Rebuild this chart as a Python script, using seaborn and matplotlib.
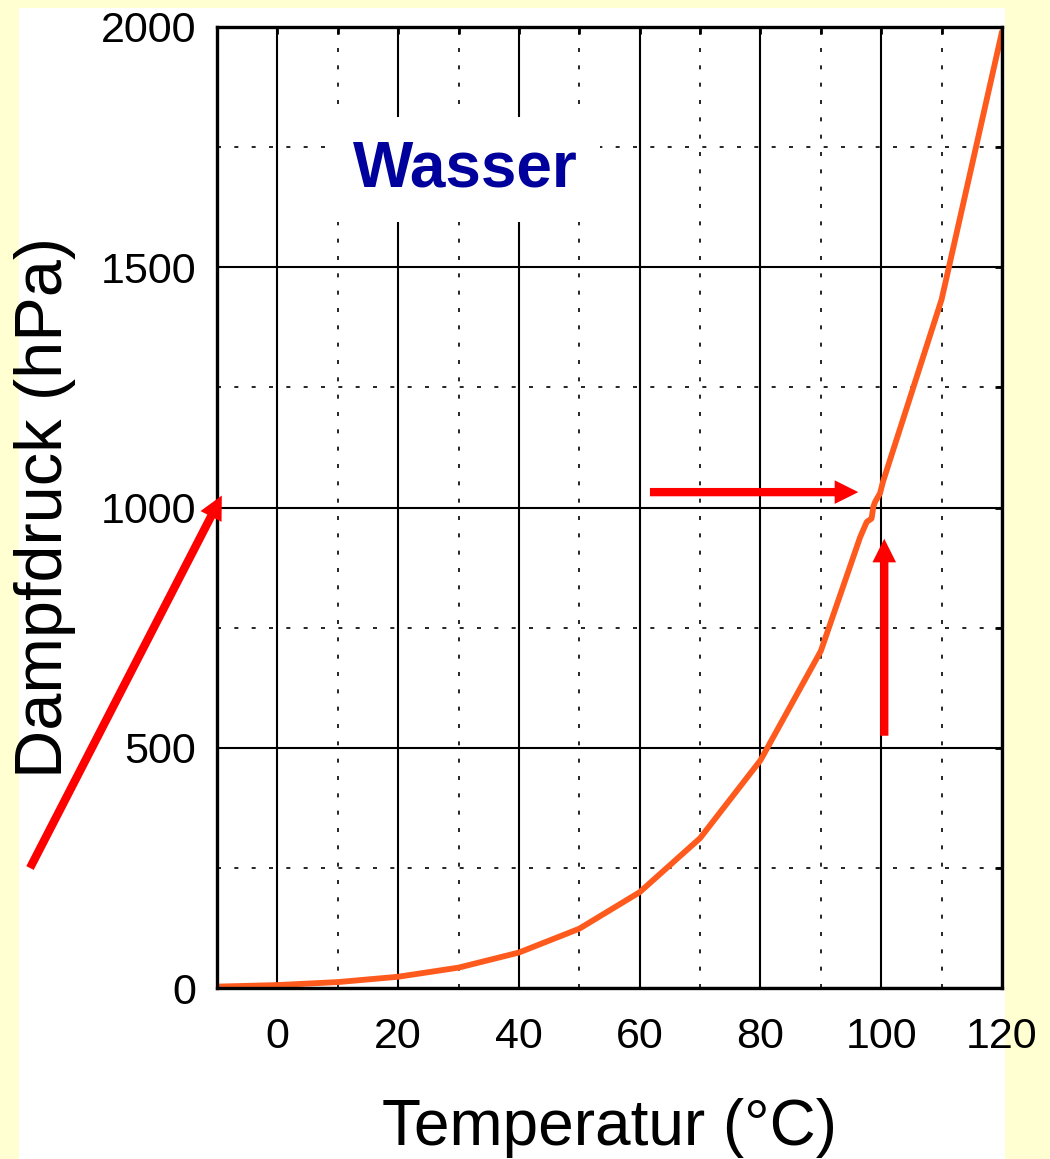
"""Dampfdruckkurve von Wasser (Sattigungsdampfdruck ueber Temperatur)."""

import matplotlib

matplotlib.use("Agg")
import matplotlib.pyplot as plt
import pandas as pd
import seaborn as sns
from matplotlib.patches import Rectangle

# Werte
temperatur = [-10, 0, 10, 20, 30, 40, 50, 60, 70, 80, 90,
              96.5, 97.6, 98.4, 98.7, 99.0, 99.8, 99.8, 100.3, 110, 120]
dampfdruck = [2.9, 6.1, 12.3, 23.4, 42.4, 73.8, 123.4, 199.4, 311.8, 473.9, 701.4,
              938, 970, 977, 1002, 1012, 1016, 1043, 1054, 1433, 1990]

x_ticks = [0, 20, 40, 60, 80, 100, 120]
y_ticks = [0, 500, 1000, 1500, 2000]
substanz = "Wasser"

KURVE = "#FF5A1E"
PFEIL = "#FF0000"
TITEL = "#00009C"


def main():
    sns.set_theme(style="white")
    plt.rcParams["font.family"] = ["Liberation Sans", "DejaVu Sans"]
    plt.rcParams["text.color"] = "black"
    plt.rcParams["axes.labelcolor"] = "black"

    df = pd.DataFrame({"T": temperatur, "p": dampfdruck})

    fig = plt.figure(figsize=(10.5, 11.59), dpi=100)
    fig.patch.set_facecolor("#FFFFD2")
    panel = Rectangle((19 / 1050, 0), 986 / 1050, 1151 / 1159,
                      transform=fig.transFigure, facecolor="white",
                      edgecolor="none", zorder=-10)
    fig.add_artist(panel)

    ax = fig.add_axes([217 / 1050, 1 - 988 / 1159, 785 / 1050, 961 / 1159])
    ax.set_zorder(1)
    ax.set_facecolor("white")

    sns.lineplot(data=df, x="T", y="p", sort=False, color=KURVE, lw=4.2,
                 ax=ax, zorder=4, solid_joinstyle="round")

    ax.set_xlim(-10, 120)
    ax.set_ylim(0, 2000)
    ax.set_xticks(x_ticks)
    ax.set_yticks(y_ticks)
    ax.set_xticks([10, 30, 50, 70, 90, 110], minor=True)
    ax.set_yticks([250, 750, 1250, 1750], minor=True)

    ax.grid(which="major", color="black", lw=1.5, ls="-")
    ax.grid(which="minor", color="black", lw=1.2, ls=(0, (2.4, 8)))
    ax.set_axisbelow(True)

    for side in ax.spines.values():
        side.set_color("black")
        side.set_linewidth(2.4)
        side.set_zorder(5)

    ax.tick_params(which="both", direction="in", length=5, width=2,
                   top=True, right=True, colors="black")
    ax.tick_params(axis="x", which="major", labelsize=31, pad=21)
    ax.tick_params(axis="y", which="major", labelsize=31, pad=15)

    ax.set_xlabel("Temperatur (°C)", fontsize=46)
    ax.xaxis.set_label_coords(0.5, -0.114)
    ax.set_ylabel("Dampfdruck (hPa)", fontsize=48)
    ax.yaxis.set_label_coords(-0.18, 0.5)

    ax.text(0.316, 0.852, substanz, transform=ax.transAxes, ha="center",
            va="center", fontsize=46, fontweight="bold", color=TITEL, zorder=6,
            bbox=dict(boxstyle="square,pad=0.35", facecolor="white", edgecolor="none"))

    pfeil = dict(width=6, headwidth=17, headlength=17, color=PFEIL, lw=0, shrink=0)
    ax.annotate("", xy=(-9.2, 1025), xytext=(30, 1159 - 868),
                textcoords="figure pixels", arrowprops=pfeil, zorder=6,
                annotation_clip=False)
    ax.annotate("", xy=(96.2, 1032), xytext=(61.7, 1032),
                arrowprops=pfeil, zorder=6)
    ax.annotate("", xy=(100.5, 935), xytext=(100.5, 525),
                arrowprops=pfeil, zorder=6)

    fig.savefig("out.png", dpi=100, facecolor=fig.get_facecolor())
    plt.close(fig)


if __name__ == "__main__":
    main()
